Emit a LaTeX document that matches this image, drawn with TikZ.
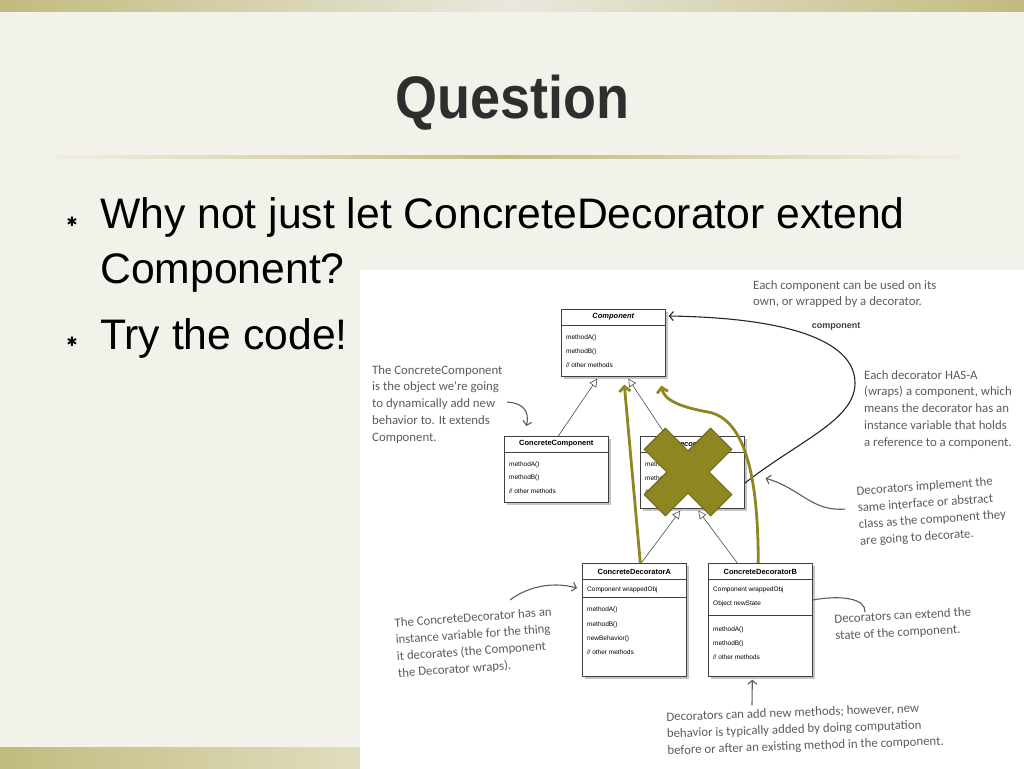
\documentclass[tikz,border=0pt]{standalone}
\usepackage{fontspec}
\setmainfont{Liberation Sans}
\newfontfamily\handfont{Carlito}
\newfontfamily\symfont{DejaVu Sans}
\usetikzlibrary{positioning, calc, shadows, arrows.meta}
\definecolor{slidebg}{HTML}{F3F2EA}
\definecolor{barolive}{HTML}{C2BB7E}
\definecolor{barlight}{HTML}{EAE8DE}
\definecolor{crossolive}{HTML}{8E8620}
\definecolor{crossedge}{HTML}{6B6414}
\definecolor{notegray}{HTML}{5C5C5C}
\definecolor{titlegray}{HTML}{2E2E2E}
\newcommand{\dslash}{/\kern-0.05em/}

\begin{document}
\begin{tikzpicture}[x=1pt, y=-1pt]
\tikzstyle{umlbox}=[draw=black!75, fill=white, line width=0.6pt, inner sep=0pt, anchor=north west,
minimum width=104pt, drop shadow={shadow xshift=3pt, shadow yshift=-3pt, opacity=0.45}]
\tikzstyle{umlhead}=[font=\fontsize{7.5}{9}\selectfont\bfseries, inner sep=0pt]
\tikzstyle{umlrow}=[font=\fontsize{6.5}{8}\selectfont, anchor=base west, inner sep=0pt]
\tikzstyle{umlsep}=[draw=black!75, line width=0.6pt]
\tikzstyle{inherit}=[draw=black!70, line width=0.6pt, -{Triangle[open, length=8pt, width=8pt]}]
\tikzstyle{olivearrow}=[draw=crossolive, line width=2.8pt, -{Straight Barb[length=5pt, width=11pt]}]
\tikzstyle{note}=[font=\handfont\fontsize{12.8}{16.8}\selectfont, text=notegray, align=left,
anchor=north west, inner sep=0pt]
\tikzstyle{notearrow}=[draw=notegray, line width=1.1pt, -{Straight Barb[length=4pt, width=9pt]}]
\tikzstyle{bullet}=[font=\fontsize{42.7}{50}\selectfont, anchor=base west, inner sep=0pt]

% slide
\fill[slidebg] (0,0) rectangle (1024,768);
\shade[left color=barolive, right color=barolive, middle color=barlight] (0,0) rectangle (1024,12);
\shade[left color=barolive, right color=barolive!50!white] (0,747) rectangle (360,768);
\shade[left color=slidebg, right color=slidebg, middle color=barolive] (25,155.5) rectangle (990,158.5);

\node (title) [font=\fontsize{60}{62}\selectfont\bfseries, text=titlegray, anchor=base, xscale=0.9] at (512,118) {Question};

% bullets
\node (star1) [font=\symfont\fontsize{13}{13}\selectfont] at (72,222) {✱};
\node (line1) [bullet] at (100,228) {Why not just let ConcreteDecorator extend};
\node (line2) [bullet] at (100,283) {Component?};
\node (star2) [font=\symfont\fontsize{13}{13}\selectfont] at (72,342) {✱};
\node (line3) [bullet] at (100,349) {Try the code!};

% figure
\fill[white] (360,270) rectangle (1024,768);

% classes
\node (comp) [umlbox, minimum height=67pt] at (561,309) {};
\draw[umlsep] ([yshift=-16pt]comp.north west) -- ([yshift=-16pt]comp.north east);
\node [umlhead] at ([yshift=-8pt]comp.north) {\itshape Component};
\foreach \txt/\dy in {methodA()/30, methodB()/44, \dslash{} other methods/58}
  \node [umlrow] at ([xshift=5pt, yshift=-\dy pt]comp.north west) {\txt};

\node (concomp) [umlbox, minimum height=66pt] at (504,436) {};
\draw[umlsep] ([yshift=-16pt]concomp.north west) -- ([yshift=-16pt]concomp.north east);
\node [umlhead] at ([yshift=-8pt]concomp.north) {ConcreteComponent};
\foreach \txt/\dy in {methodA()/30, methodB()/43, \dslash{} other methods/57}
  \node [umlrow] at ([xshift=5pt, yshift=-\dy pt]concomp.north west) {\txt};

\node (deco) [umlbox, minimum height=72pt] at (640,436) {};
\draw[umlsep] ([yshift=-16pt]deco.north west) -- ([yshift=-16pt]deco.north east);
\node [umlhead] at ([yshift=-8pt]deco.north) {\itshape Decorator};
\foreach \txt/\dy in {methodA()/30, methodB()/44, \dslash{} other methods/58}
  \node [umlrow] at ([xshift=5pt, yshift=-\dy pt]deco.north west) {\txt};

\node (decoA) [umlbox, minimum height=113pt] at (582,563) {};
\draw[umlsep] ([yshift=-16pt]decoA.north west) -- ([yshift=-16pt]decoA.north east);
\draw[umlsep] ([yshift=-34pt]decoA.north west) -- ([yshift=-34pt]decoA.north east);
\node [umlhead] at ([yshift=-9pt]decoA.north) {ConcreteDecoratorA};
\foreach \txt/\dy in {Component wrappedObj/28, methodA()/48, methodB()/63, newBehavior()/77, \dslash{} other methods/91}
  \node [umlrow] at ([xshift=5pt, yshift=-\dy pt]decoA.north west) {\txt};

\node (decoB) [umlbox, minimum height=113pt] at (708,563) {};
\draw[umlsep] ([yshift=-16pt]decoB.north west) -- ([yshift=-16pt]decoB.north east);
\draw[umlsep] ([yshift=-52pt]decoB.north west) -- ([yshift=-52pt]decoB.north east);
\node [umlhead] at ([yshift=-9pt]decoB.north) {ConcreteDecoratorB};
\foreach \txt/\dy in {Component wrappedObj/28, Object newState/42, methodA()/68, methodB()/82, \dslash{} other methods/96}
  \node [umlrow] at ([xshift=5pt, yshift=-\dy pt]decoB.north west) {\txt};

% inheritance
\draw[inherit] ([xshift=2pt]concomp.north) -- ([xshift=-16pt, yshift=-2pt]comp.south);
\draw[inherit] ([xshift=-26pt]deco.north) -- ([xshift=15pt, yshift=-2pt]comp.south);
\draw[inherit] ([xshift=7pt]decoA.north) -- ([xshift=-12pt, yshift=-2pt]deco.south);
\draw[inherit] ([xshift=-23pt]decoB.north) -- ([xshift=6pt, yshift=-2pt]deco.south);

% has-a
\draw[black!85, line width=1.1pt, -{Straight Barb[length=4pt, width=9pt]}] ([yshift=-11pt]deco.east)
  .. controls (800,440) and (855,420) .. (855,383)
  .. controls (855,345) and (800,318) .. ([xshift=3pt, yshift=-7pt]comp.north east);
\node (wrapped) [font=\fontsize{9}{10}\selectfont\bfseries, text=black!75] at (836,326) {component};

% the cross
\draw[fill=crossolive, draw=crossedge, line width=1pt, shift={(688,472)}, rotate=45]
  (-15,-47) -- (15,-47) -- (15,-15) -- (47,-15) -- (47,15) -- (15,15) -- (15,47)
  -- (-15,47) -- (-15,15) -- (-47,15) -- (-47,-15) -- (-15,-15) -- cycle;

% extends instead
\draw[olivearrow] ([xshift=6pt]decoA.north) -- ([xshift=11pt, yshift=-8pt]comp.south);
\draw[olivearrow] ([xshift=-2pt]decoB.north) .. controls (758,500) and (752,420) .. (708,412)
  .. controls (680,407) and (664,400) .. ([xshift=48pt, yshift=-9pt]comp.south);

% notes
\node (noteown) [note] at (753,280) {Each component can be used on its\\own, or wrapped by a decorator.};
\node (notehas) [note] at (864,370) {Each decorator HAS-A\\(wraps) a component, which\\means the decorator has an\\instance variable that holds\\a reference to a component.};
\node (noteconc) [note] at (372,365) {The ConcreteComponent\\is the object we're going\\to dynamically add new\\behavior to. It extends\\Component.};
\node (noteimpl) [note, rotate=4] at (856,486) {Decorators implement the\\same interface or abstract\\class as the component they\\are going to decorate.};
\node (notestate) [note, rotate=3] at (834,614) {Decorators can extend the\\state of the component.};
\node (notewrap) [note, rotate=4] at (394,618) {The ConcreteDecorator has an\\instance variable for the thing\\it decorates (the Component\\the Decorator wraps).};
\node (notemeth) [note, rotate=2] at (666,712) {Decorators can add new methods; however, new\\behavior is typically added by doing computation\\before or after an existing method in the component.};

\draw[notearrow] (507,402) .. controls (522,403) and (530,410) .. ([xshift=-30pt, yshift=10pt]concomp.north);
\draw[notearrow] (510,600) .. controls (530,585) and (555,582) .. ([xshift=-5pt, yshift=-25pt]decoA.north west);
\draw[notearrow] (845,509) .. controls (812,512) and (800,488) .. ([xshift=21pt, yshift=-6pt]deco.east);
\draw[notegray, line width=1.1pt] ([yshift=-37pt]decoB.north east) .. controls (840,595) and (866,598) .. (865,612);
\draw[notearrow] (752,705) -- ([xshift=-8pt, yshift=-3pt]decoB.south);

\end{tikzpicture}
\end{document}
